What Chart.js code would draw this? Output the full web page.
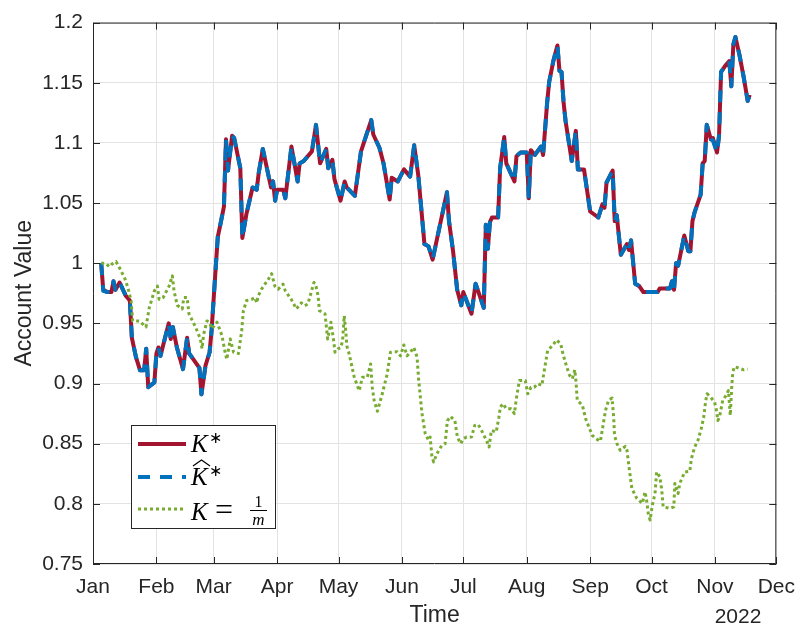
<!DOCTYPE html>
<html lang="en">
<head>
<meta charset="UTF-8">
<title>Account Value</title>
<script src="https://cdn.jsdelivr.net/npm/chart.js"></script>
<style>
  body { margin: 0; background: #fff; }
  #wrap { width: 806px; height: 630px; }
</style>
</head>
<body>
<div id="wrap"><canvas id="myChart"></canvas></div>
<script>
// x axis: day of year 2022 (Jan 1 = 0)
const monthStarts = [0, 31, 59, 90, 120, 151, 181, 212, 243, 273, 304, 334];
const monthLabels = ['Jan', 'Feb', 'Mar', 'Apr', 'May', 'Jun', 'Jul', 'Aug', 'Sep', 'Oct', 'Nov', 'Dec'];
const yearLabel = '2022';
const yTicks = [0.75, 0.8, 0.85, 0.9, 0.95, 1, 1.05, 1.1, 1.15, 1.2];

// K* and K-hat* (they sit on top of each other)
const kDays = [4,5,7,9,10,11,13,16,18,19, 21,23,25,26,27,30,31,32,33,37,
  38,39,41,44,46,47,52,53,55,57, 58,60,61,62,64,65,66,68,69,72,
  73,75,78,80,81,83,85,87,88,89, 90,93,94,97,100,101,103,107,109,111,
  114,115,117,118,121,123,124,128,131,136, 137,140,142,145,146,149,152,155,157,159,
  162,164,166,170,171,173,174,176,178,180, 181,185,187,189,191,192,193,194,195,198,
  199,201,202,206,207,209,212,213,214,216, 219,220,221,222,223,225,227,228,229,230,
  231,234,236,237,240,243,247,249,250,251, 254,255,256,258,261,262,263,265,267,269,
  276,277,282,283,284,285,286,289,291,292, 293,294,297,298,299,300,302,303,305,306,
  307,309,311,312,313,314,316,318,320,321];

const kStar = [1.000,0.978,0.976,0.976,0.985,0.978,0.984,0.973,0.969,0.938,
  0.922,0.911,0.911,0.929,0.897,0.901,0.925,0.930,0.923,0.950,
  0.937,0.947,0.930,0.912,0.938,0.925,0.913,0.891,0.915,0.926,
  0.945,0.997,1.022,1.030,1.047,1.103,1.077,1.106,1.104,1.079,
  1.021,1.041,1.063,1.061,1.075,1.095,1.079,1.063,1.068,1.052,
  1.061,1.061,1.054,1.097,1.068,1.083,1.085,1.093,1.115,1.083,
  1.095,1.079,1.086,1.070,1.052,1.068,1.063,1.056,1.093,1.119,
  1.107,1.096,1.083,1.053,1.071,1.068,1.078,1.072,1.098,1.073,
  1.016,1.014,1.003,1.035,1.043,1.059,1.035,1.010,0.978,0.965,
  0.976,0.958,0.983,0.973,0.963,1.032,1.012,1.034,1.038,1.038,
  1.079,1.105,1.083,1.068,1.089,1.092,1.092,1.054,1.094,1.090,
  1.097,1.090,1.112,1.134,1.151,1.168,1.181,1.160,1.159,1.134,
  1.118,1.085,1.110,1.078,1.078,1.043,1.038,1.049,1.046,1.067,
  1.077,1.035,1.040,1.007,1.016,1.011,1.019,0.983,0.981,0.976,
  0.976,0.979,0.979,0.985,0.978,1.000,0.998,1.023,1.010,1.010,
  1.035,1.042,1.057,1.083,1.085,1.115,1.103,1.104,1.092,1.106,
  1.159,1.164,1.168,1.147,1.182,1.188,1.173,1.155,1.135,1.140];

const kHatStar = [1.000,0.977,0.976,0.976,0.985,0.978,0.984,0.973,0.969,0.938,
  0.922,0.911,0.911,0.929,0.897,0.901,0.925,0.930,0.923,0.950,
  0.937,0.947,0.930,0.912,0.938,0.925,0.913,0.891,0.915,0.926,
  0.945,0.997,1.022,1.030,1.047,1.103,1.077,1.106,1.104,1.079,
  1.021,1.041,1.063,1.061,1.075,1.095,1.079,1.063,1.068,1.052,
  1.061,1.061,1.054,1.097,1.068,1.083,1.085,1.093,1.115,1.083,
  1.095,1.079,1.086,1.070,1.052,1.068,1.063,1.056,1.093,1.119,
  1.107,1.096,1.083,1.053,1.071,1.068,1.078,1.072,1.098,1.073,
  1.016,1.014,1.003,1.035,1.043,1.059,1.035,1.010,0.978,0.965,
  0.976,0.958,0.983,0.973,0.963,1.032,1.012,1.034,1.038,1.038,
  1.079,1.105,1.083,1.068,1.089,1.092,1.092,1.054,1.094,1.090,
  1.097,1.090,1.112,1.134,1.151,1.168,1.181,1.160,1.159,1.134,
  1.118,1.085,1.110,1.078,1.078,1.043,1.038,1.049,1.046,1.067,
  1.077,1.035,1.040,1.007,1.016,1.011,1.019,0.983,0.981,0.976,
  0.976,0.979,0.979,0.985,0.978,1.000,0.998,1.023,1.010,1.010,
  1.035,1.042,1.057,1.083,1.085,1.115,1.103,1.102,1.092,1.106,
  1.159,1.164,1.168,1.147,1.182,1.188,1.173,1.155,1.135,1.140];

// K = 1/m (uniform weights)
const mDays = [4,6,8,9.4,11.3,13,15.4,17,18.6,19.4,
  22.6,25.9,27.5,30,31.5,32.3,34.3,37.2,38.8,39.6,
  41.2,43.6,44.4,46,46.9,50.1,52.5,53.3,54.1,55.7,
  56.9,58.2,59.8,60.6,63,64.7,65.4,67.1,68.7,71.1,
  72.7,73.5,75.1,77.6,79.2,80,80.8,82.4,85.7,87.3,
  88.9,90.5,92.9,94,96.9,99.4,101.8,103.4,105,108,
  109,110,110.7,113.4,114.7,116.3,117.6,118.3,119.9,121.2,
  122,122.8,123.6,124.1,125.2,127.7,130.1,131.7,134.1,135.7,
  136.5,137.4,139,141.4,143.8,145.4,148.7,150.3,151.9,153.5,
  155.1,156.8,158.4,159.2,160.8,162.4,164,164.8,165.6,166.5,
  168.1,170.5,172.1,173.2,174.8,176.9,178.1,179.7,181,182.6,
  185,186.6,188.3,189.9,192.3,193.6,194.7,197.1,198.4,199.1,
  200.4,202,204.4,206,206.8,208.4,211.3,212.5,214.1,215.7,
  217.4,219.4,220.6,222.2,224.6,226.6,228.6,229.8,231.5,233,
  234.3,235.5,236.1,236.7,239.2,240.8,242.4,244,246,248,
  248.9,250.5,252,253.7,254.5,254.9,256.1,257.7,260.2,261,
  262.1,263.4,265.8,268.5,269.8,270.6,271.4,272.3,273.4,274.7,
  275.5,277.1,278,278.7,282,283.9,284.4,286,286.8,289.2,
  291.7,292.5,294.1,295.7,297.3,298.5,299.5,300.2,302.2,303.8,
  304.6,305.4,306.2,307.8,309.4,310.6,311.5,312.2,312.7,313.5,
  315.9,318,320];

const kUniform = [1.000,1.000,0.997,0.9995,1.0013,0.996,0.988,0.980,0.969,0.952,
  0.952,0.947,0.963,0.977,0.981,0.970,0.9715,0.981,0.9895,0.977,
  0.965,0.962,0.9715,0.9715,0.958,0.947,0.937,0.929,0.941,0.952,
  0.951,0.9455,0.9495,0.951,0.940,0.925,0.920,0.937,0.926,0.925,
  0.944,0.9605,0.969,0.970,0.9715,0.967,0.973,0.9785,0.9867,0.9913,
  0.981,0.9785,0.9826,0.977,0.970,0.962,0.967,0.9647,0.966,0.984,
  0.981,0.973,0.9605,0.958,0.937,0.951,0.936,0.926,0.929,0.930,
  0.936,0.9564,0.9425,0.931,0.9246,0.9053,0.894,0.9053,0.9053,0.9163,
  0.897,0.886,0.877,0.8915,0.908,0.926,0.9265,0.923,0.932,0.923,
  0.926,0.930,0.922,0.9025,0.875,0.8583,0.8528,0.8555,0.8403,0.8348,
  0.8417,0.8486,0.850,0.869,0.8727,0.869,0.8555,0.850,0.854,0.8555,
  0.8555,0.8652,0.866,0.861,0.8528,0.8472,0.861,0.8597,0.872,0.8804,
  0.8832,0.879,0.879,0.875,0.886,0.9025,0.9025,0.8915,0.897,0.897,
  0.900,0.8984,0.911,0.9274,0.9315,0.9362,0.933,0.924,0.914,0.9067,
  0.904,0.9114,0.901,0.886,0.882,0.8707,0.8638,0.857,0.854,0.852,
  0.861,0.8776,0.886,0.888,0.872,0.857,0.850,0.8445,0.8478,0.8445,
  0.8293,0.8127,0.8045,0.8003,0.810,0.803,0.792,0.7865,0.7989,0.8086,
  0.8265,0.8224,0.8113,0.7975,0.7962,0.7975,0.817,0.8086,0.817,0.8265,
  0.827,0.8376,0.8472,0.8528,0.8625,0.872,0.886,0.8915,0.888,0.8846,
  0.879,0.8693,0.872,0.886,0.890,0.8942,0.8735,0.897,0.9094,0.914,
  0.9127,0.9114,0.912];

function pairUp(xs, ys) {
    return xs.map((x, i) => ({ x: x, y: ys[i] }));
}

const axisColor = '#262626';
const tickFont = { family: "'Liberation Sans', Arial, sans-serif", size: 21 };
const labelFont = { family: "'Liberation Sans', Arial, sans-serif", size: 23 };

// box round the plot with inward tick marks, plus the year under the axis
const axesBox = {
    id: 'axesBox',
    afterDatasetsDraw(chart) {
        const { ctx, chartArea: a, scales } = chart;
        ctx.save();
        ctx.strokeStyle = axisColor;
        ctx.lineWidth = 1;
        ctx.beginPath();
        ctx.rect(a.left + 0.5, a.top + 0.5, a.right - a.left - 1, a.bottom - a.top - 1);
        ctx.stroke();
        ctx.beginPath();
        monthStarts.forEach(d => {
            const px = Math.round(scales.x.getPixelForValue(d)) + 0.5;
            ctx.moveTo(px, a.bottom); ctx.lineTo(px, a.bottom - 7);
            ctx.moveTo(px, a.top); ctx.lineTo(px, a.top + 7);
        });
        yTicks.forEach(v => {
            const py = Math.round(scales.y.getPixelForValue(v)) + 0.5;
            ctx.moveTo(a.left, py); ctx.lineTo(a.left + 7, py);
            ctx.moveTo(a.right, py); ctx.lineTo(a.right - 7, py);
        });
        ctx.stroke();
        ctx.fillStyle = axisColor;
        ctx.font = tickFont.size + 'px ' + tickFont.family;
        ctx.textAlign = 'center';
        ctx.textBaseline = 'alphabetic';
        ctx.fillText(yearLabel, 738, 623);
        ctx.restore();
    }
};

// legend with the math labels
const mathLegend = {
    id: 'mathLegend',
    afterDraw(chart) {
        const ctx = chart.ctx;
        const ds = chart.data.datasets;
        const rows = [444, 477, 509];
        ctx.save();
        ctx.fillStyle = '#fff';
        ctx.fillRect(132, 425, 144, 104);
        ctx.strokeStyle = axisColor;
        ctx.lineWidth = 1;
        ctx.strokeRect(131.5, 425.5, 144, 103);

        ds.forEach((d, i) => {
            ctx.beginPath();
            ctx.strokeStyle = d.borderColor;
            ctx.lineWidth = d.borderWidth;
            ctx.setLineDash(d.borderDash || []);
            ctx.moveTo(138, rows[i]);
            ctx.lineTo(186, rows[i]);
            ctx.stroke();
        });
        ctx.setLineDash([]);

        const it = "italic 25px 'Liberation Serif', 'Times New Roman', serif";
        const small = "16px 'Liberation Serif', 'Times New Roman', serif";
        const smallIt = "italic 17px 'Liberation Serif', 'Times New Roman', serif";
        ctx.fillStyle = '#000';
        ctx.textAlign = 'left';
        ctx.textBaseline = 'alphabetic';

        // K*
        ctx.font = it;
        ctx.fillText('K', 191, 452);
        ctx.font = small;
        ctx.fillText('\u2217', 209, 443);

        // K-hat*
        ctx.font = it;
        ctx.fillText('K', 191, 485);
        ctx.font = small;
        ctx.fillText('\u2217', 209, 476);
        ctx.beginPath();
        ctx.strokeStyle = '#000';
        ctx.lineWidth = 1.2;
        ctx.moveTo(193, 466);
        ctx.lineTo(201.5, 460);
        ctx.lineTo(210, 466);
        ctx.stroke();

        // K = 1/m
        ctx.font = it;
        ctx.fillText('K', 191, 520);
        ctx.font = "32px 'Liberation Serif', 'Times New Roman', serif";
        ctx.fillText('=', 215, 520);
        ctx.textAlign = 'center';
        ctx.font = small;
        ctx.fillText('1', 258.5, 507);
        ctx.font = smallIt;
        ctx.fillText('m', 258.5, 525);
        ctx.beginPath();
        ctx.lineWidth = 1;
        ctx.moveTo(250, 510.5);
        ctx.lineTo(267, 510.5);
        ctx.stroke();
        ctx.restore();
    }
};

new Chart('myChart', {
    type: 'line',
    data: {
        datasets: [{
            label: 'K*',
            data: pairUp(kDays, kStar),
            borderColor: '#A2142F',
            borderWidth: 4,
            borderJoinStyle: 'round',
            order: 2
        }, {
            label: 'K-hat*',
            data: pairUp(kDays, kHatStar),
            borderColor: '#0072BD',
            borderWidth: 4,
            borderJoinStyle: 'round',
            borderDash: [12, 10],
            order: 1
        }, {
            label: 'K = 1/m',
            data: pairUp(mDays, kUniform),
            borderColor: '#77AC30',
            borderWidth: 3,
            borderJoinStyle: 'round',
            borderDash: [3, 3],
            order: 0
        }]
    },
    options: {
        responsive: true,
        maintainAspectRatio: false,
        animation: false,
        devicePixelRatio: 1,
        layout: { padding: { top: 21, right: 24, left: 0, bottom: 0 } },
        elements: { point: { radius: 0 }, line: { tension: 0, fill: false } },
        plugins: { legend: { display: false }, tooltip: { enabled: false } },
        scales: {
            x: {
                type: 'linear',
                min: 0,
                max: 334,
                afterBuildTicks: s => { s.ticks = monthStarts.map(v => ({ value: v })); },
                afterFit: s => { s.height = 66; },
                grid: { color: '#e3e3e3', drawTicks: false },
                border: { display: false },
                ticks: {
                    autoSkip: false,
                    maxRotation: 0,
                    padding: 11,
                    color: axisColor,
                    font: tickFont,
                    callback: v => monthLabels[monthStarts.indexOf(v)]
                },
                title: { display: true, text: 'Time', color: axisColor, font: labelFont, padding: { top: 0, bottom: 1 } }
            },
            y: {
                min: 0.75,
                max: 1.2,
                afterBuildTicks: s => { s.ticks = yTicks.map(v => ({ value: v })); },
                afterFit: s => { s.width = 93; },
                grid: { color: '#e3e3e3', drawTicks: false },
                border: { display: false },
                ticks: {
                    padding: 10,
                    color: axisColor,
                    font: tickFont,
                    callback: v => String(+v.toFixed(2))
                },
                title: { display: true, text: 'Account Value', color: axisColor, font: labelFont, padding: { top: 11, bottom: 0 } }
            }
        }
    },
    plugins: [axesBox, mathLegend]
});
</script>
</body>
</html>
